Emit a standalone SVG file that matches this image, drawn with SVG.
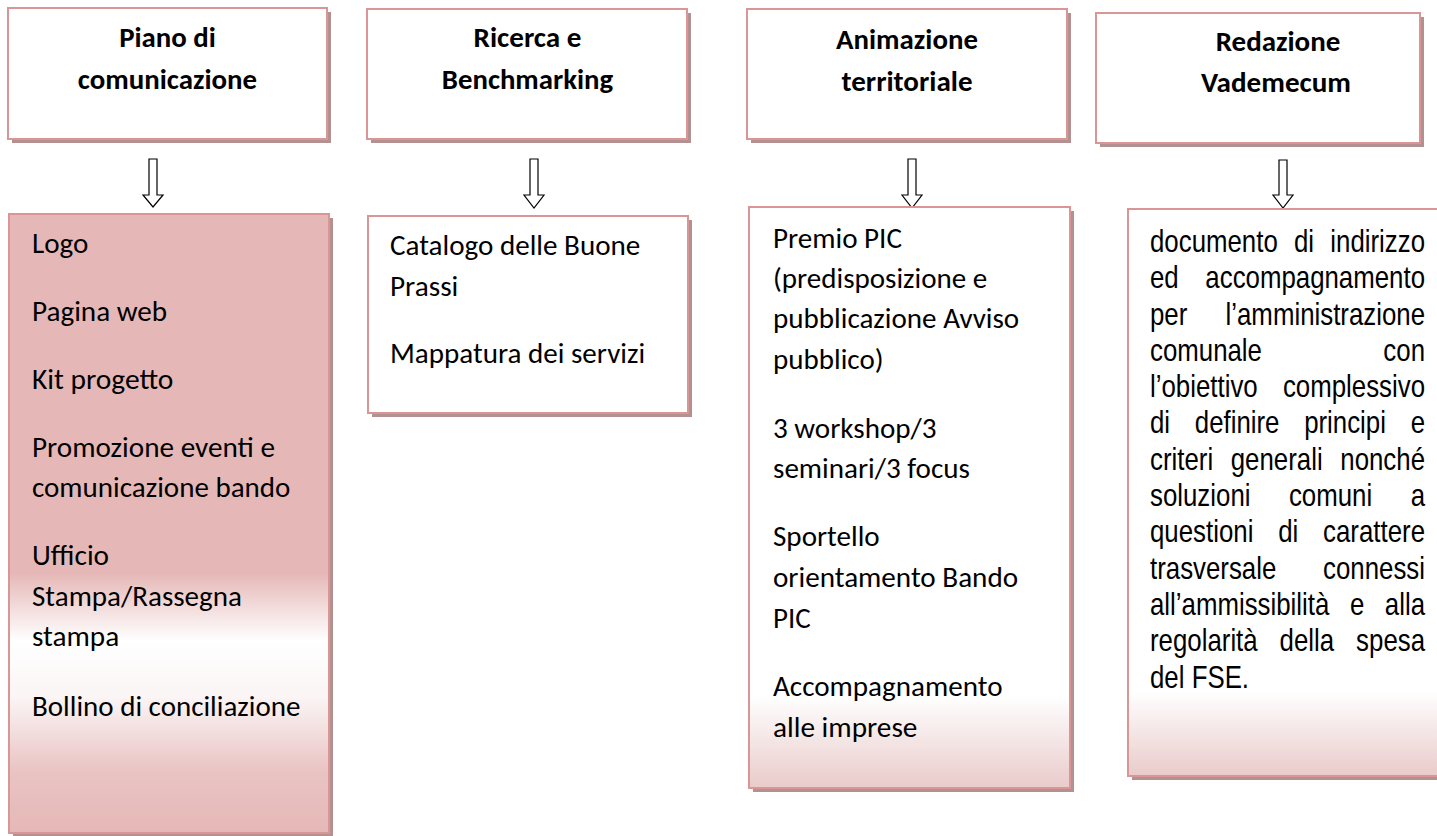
<svg xmlns="http://www.w3.org/2000/svg" width="1437" height="836" viewBox="0 0 1437 836">
<defs>
<style>
.box{stroke:#d99694;stroke-width:2}
.shd{fill:#b39191}
.hd{font-family:Carlito,Lato,"Liberation Sans",sans-serif;font-weight:bold;font-size:29px;fill:#000;text-anchor:middle}
.bd{font-family:Carlito,Lato,"Liberation Sans",sans-serif;font-size:29px;fill:#000}
.ar{font-family:"Liberation Sans",Arial,sans-serif;font-size:31.5px;fill:#000}
.arw{fill:#fff;stroke:#000;stroke-width:1.2}
</style>
<linearGradient id="g1" x1="0" y1="0" x2="0" y2="1">
<stop offset="0" stop-color="#e5b8b7"/>
<stop offset="0.58" stop-color="#e5b8b7"/>
<stop offset="0.69" stop-color="#ffffff"/>
<stop offset="0.78" stop-color="#fbf5f5"/>
<stop offset="0.9" stop-color="#e9c4c3"/>
<stop offset="1" stop-color="#e5b8b7"/>
</linearGradient>
<linearGradient id="g3" x1="0" y1="0" x2="0" y2="1">
<stop offset="0" stop-color="#ffffff"/>
<stop offset="0.84" stop-color="#ffffff"/>
<stop offset="1" stop-color="#e9cbca"/>
</linearGradient>
<linearGradient id="g4" x1="0" y1="0" x2="0" y2="1">
<stop offset="0" stop-color="#ffffff"/>
<stop offset="0.85" stop-color="#ffffff"/>
<stop offset="1" stop-color="#e9cbca"/>
</linearGradient>
</defs>
<rect width="1437" height="836" fill="#fff"/>

<g id="h1">
<rect class="shd" x="12" y="12" width="319" height="131"/>
<rect class="box" x="8" y="8" width="319" height="131" fill="#fff"/>
<text class="hd" x="167.5" y="47" textLength="96.7" lengthAdjust="spacingAndGlyphs">Piano di</text>
<text class="hd" x="167.5" y="88.5" textLength="179.3" lengthAdjust="spacingAndGlyphs">comunicazione</text>
</g>
<g id="h2">
<rect class="shd" x="371" y="13" width="320" height="130"/>
<rect class="box" x="367" y="9" width="320" height="130" fill="#fff"/>
<text class="hd" x="527.5" y="47" textLength="107.9" lengthAdjust="spacingAndGlyphs">Ricerca e</text>
<text class="hd" x="527.5" y="89" textLength="171.3" lengthAdjust="spacingAndGlyphs">Benchmarking</text>
</g>
<g id="h3">
<rect class="shd" x="751" y="13" width="320" height="130"/>
<rect class="box" x="747" y="9" width="320" height="130" fill="#fff"/>
<text class="hd" x="907" y="48.5" textLength="141.9" lengthAdjust="spacingAndGlyphs">Animazione</text>
<text class="hd" x="907" y="90.5" textLength="131" lengthAdjust="spacingAndGlyphs">territoriale</text>
</g>
<g id="h4">
<rect class="shd" x="1100" y="17" width="324" height="130"/>
<rect class="box" x="1096" y="13" width="324" height="130" fill="#fff"/>
<text class="hd" x="1278" y="51" textLength="124.6" lengthAdjust="spacingAndGlyphs">Redazione</text>
<text class="hd" x="1276" y="92" textLength="150" lengthAdjust="spacingAndGlyphs">Vademecum</text>
</g>

<g id="connectors">
<path class="arw" d="M149,159 H157 V195 H163 L153,207 L143,195 H149 Z"/>
<path class="arw" d="M530,159 H538 V195 H544 L534,208 L524,195 H530 Z"/>
<path class="arw" d="M908,159 H916 V195 H922 L912,208 L902,195 H908 Z"/>
<path class="arw" d="M1279,160 H1287 V195 H1293 L1283,208 L1273,195 H1279 Z"/>
</g>

<g id="b1">
<rect class="shd" x="13" y="218" width="320" height="619"/>
<rect class="box" x="9" y="214" width="320" height="619" fill="url(#g1)"/>
<text class="bd" x="32" y="253" textLength="56.4" lengthAdjust="spacingAndGlyphs">Logo</text>
<text class="bd" x="32" y="321" textLength="135.2" lengthAdjust="spacingAndGlyphs">Pagina web</text>
<text class="bd" x="32" y="389" textLength="141.4" lengthAdjust="spacingAndGlyphs">Kit progetto</text>
<text class="bd" x="32" y="457" textLength="243" lengthAdjust="spacingAndGlyphs">Promozione eventi e</text>
<text class="bd" x="32" y="497" textLength="258.4" lengthAdjust="spacingAndGlyphs">comunicazione bando</text>
<text class="bd" x="32" y="565" textLength="77.1" lengthAdjust="spacingAndGlyphs">Ufficio</text>
<text class="bd" x="32" y="606" textLength="209.9" lengthAdjust="spacingAndGlyphs">Stampa/Rassegna</text>
<text class="bd" x="32" y="646" textLength="87.2" lengthAdjust="spacingAndGlyphs">stampa</text>
<text class="bd" x="32" y="716" textLength="268.4" lengthAdjust="spacingAndGlyphs">Bollino di conciliazione</text>
</g>

<g id="b2">
<rect class="shd" x="372" y="220" width="320" height="197"/>
<rect class="box" x="368" y="216" width="320" height="197" fill="#fff"/>
<text class="bd" x="390" y="255" textLength="250.3" lengthAdjust="spacingAndGlyphs">Catalogo delle Buone</text>
<text class="bd" x="390" y="296" textLength="68.3" lengthAdjust="spacingAndGlyphs">Prassi</text>
<text class="bd" x="390" y="363" textLength="255.1" lengthAdjust="spacingAndGlyphs">Mappatura dei servizi</text>
</g>

<g id="b3">
<rect class="shd" x="753" y="211" width="321" height="581"/>
<rect class="box" x="749" y="207" width="321" height="581" fill="url(#g3)"/>
<text class="bd" x="773" y="248" textLength="128.9" lengthAdjust="spacingAndGlyphs">Premio PIC</text>
<text class="bd" x="773" y="287.5" textLength="214.3" lengthAdjust="spacingAndGlyphs">(predisposizione e</text>
<text class="bd" x="773" y="327.5" textLength="246.2" lengthAdjust="spacingAndGlyphs">pubblicazione Avviso</text>
<text class="bd" x="773" y="368.5" textLength="110.5" lengthAdjust="spacingAndGlyphs">pubblico)</text>
<text class="bd" x="773" y="437.5" textLength="163.6" lengthAdjust="spacingAndGlyphs">3 workshop/3</text>
<text class="bd" x="773" y="477.5" textLength="196.9" lengthAdjust="spacingAndGlyphs">seminari/3 focus</text>
<text class="bd" x="773" y="545.5" textLength="106.7" lengthAdjust="spacingAndGlyphs">Sportello</text>
<text class="bd" x="773" y="586.5" textLength="245.1" lengthAdjust="spacingAndGlyphs">orientamento Bando</text>
<text class="bd" x="773" y="627.5" textLength="37.7" lengthAdjust="spacingAndGlyphs">PIC</text>
<text class="bd" x="773" y="696" textLength="229.5" lengthAdjust="spacingAndGlyphs">Accompagnamento</text>
<text class="bd" x="773" y="736.5" textLength="144.4" lengthAdjust="spacingAndGlyphs">alle imprese</text>
</g>

<g id="b4">
<rect class="shd" x="1132" y="213" width="320" height="567"/>
<rect class="box" x="1128" y="209" width="320" height="567" fill="url(#g4)"/>
<g transform="translate(1150,0) scale(0.82,1)">
<text class="ar" y="252"><tspan x="0">documento</tspan><tspan x="175.6">di</tspan><tspan x="335.4" text-anchor="end">indirizzo</tspan></text>
<text class="ar" y="288.3"><tspan x="0">ed</tspan><tspan x="335.4" text-anchor="end">accompagnamento</tspan></text>
<text class="ar" y="324.6"><tspan x="0">per</tspan><tspan x="335.4" text-anchor="end">l’amministrazione</tspan></text>
<text class="ar" y="361"><tspan x="0">comunale</tspan><tspan x="335.4" text-anchor="end">con</tspan></text>
<text class="ar" y="397.2"><tspan x="0">l’obiettivo</tspan><tspan x="335.4" text-anchor="end">complessivo</tspan></text>
<text class="ar" y="433.5"><tspan x="0">di</tspan><tspan x="54.6">definire</tspan><tspan x="188">principi</tspan><tspan x="335.4" text-anchor="end">e</tspan></text>
<text class="ar" y="469.8"><tspan x="0">criteri</tspan><tspan x="98.5">generali</tspan><tspan x="335.4" text-anchor="end">nonché</tspan></text>
<text class="ar" y="506"><tspan x="0">soluzioni</tspan><tspan x="169.4">comuni</tspan><tspan x="335.4" text-anchor="end">a</tspan></text>
<text class="ar" y="542.4"><tspan x="0">questioni</tspan><tspan x="156.3">di</tspan><tspan x="335.4" text-anchor="end">carattere</tspan></text>
<text class="ar" y="578.7"><tspan x="0">trasversale</tspan><tspan x="335.4" text-anchor="end">connessi</tspan></text>
<text class="ar" y="615"><tspan x="0">all’ammissibilità</tspan><tspan x="243.8">e</tspan><tspan x="335.4" text-anchor="end">alla</tspan></text>
<text class="ar" y="651.3"><tspan x="0">regolarità</tspan><tspan x="158">della</tspan><tspan x="335.4" text-anchor="end">spesa</tspan></text>
<text class="ar" y="687.6"><tspan x="0">del FSE.</tspan></text>
</g>
</g>
</svg>
